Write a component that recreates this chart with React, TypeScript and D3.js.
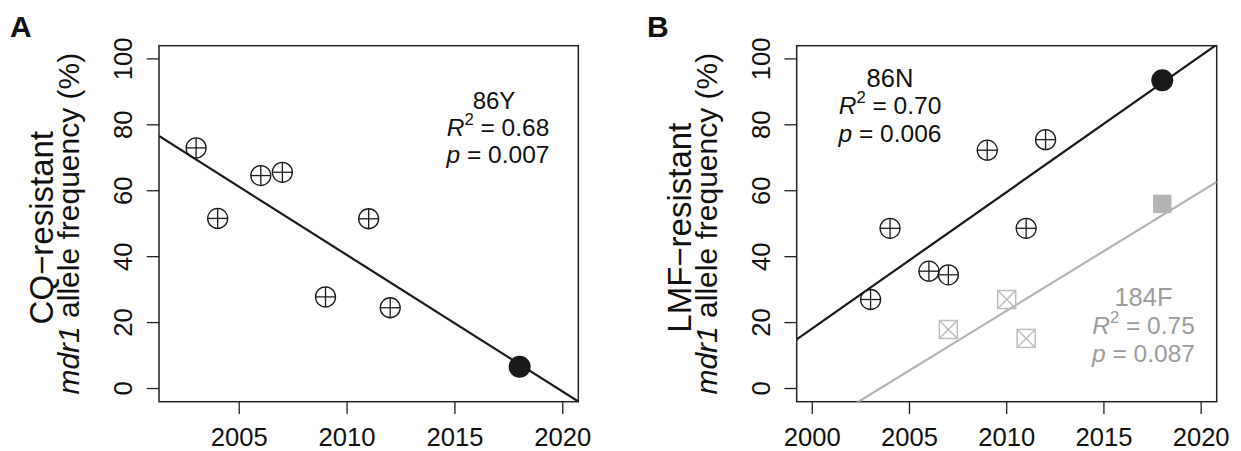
import React from "react";
import * as d3 from "d3";

// ---- Data ----
const yTicks = [0, 20, 40, 60, 80, 100];
const xTicksA = [2005, 2010, 2015, 2020];
const xTicksB = [2000, 2005, 2010, 2015, 2020];
const xLimA = [2002, 2020];
const xLimB = [2000, 2020];
const yLim = [0, 100];

const currentYear = 2018;

// Panel A: 86Y (CQ-resistant)
const years86Y = [2003, 2004, 2006, 2007, 2009, 2011, 2012];
const freq86Y = [73, 51.6, 64.6, 65.6, 27.8, 51.5, 24.5];
const current86Y = 6.6;

// Panel B: 86N (LMF-resistant)
const years86N = [2003, 2004, 2006, 2007, 2009, 2011, 2012];
const freq86N = [27, 48.6, 35.6, 34.5, 72.3, 48.6, 75.5];
const current86N = 93.5;

// Panel B: 184F
const years184F = [2007, 2010, 2011];
const freq184F = [17.9, 27, 15.2];
const current184F = 56;

const statsA = { label: "86Y", r2: "0.68", p: "0.007" };
const statsB86N = { label: "86N", r2: "0.70", p: "0.006" };
const statsB184F = { label: "184F", r2: "0.75", p: "0.087" };

// ---- helpers ----
const FONT = "'Liberation Sans', Arial, Helvetica, sans-serif";
const DARK = "#1a1a1a";
const GRAY_LINE = "#b3b3b3";
const GRAY_MARK = "#bdbdbd";
const GRAY_TEXT = "#9c9c9c";

function expand(lim: number[]) {
  const r = lim[1] - lim[0];
  return [lim[0] - 0.04 * r, lim[1] + 0.04 * r];
}

function fit(xs: number[], ys: number[]) {
  const mx = d3.mean(xs) as number;
  const my = d3.mean(ys) as number;
  let sxy = 0;
  let sxx = 0;
  xs.forEach((x, i) => {
    sxy += (x - mx) * (ys[i] - my);
    sxx += (x - mx) * (x - mx);
  });
  const b = sxy / sxx;
  const a = my - b * mx;
  return (x: number) => a + b * x;
}

function CirclePlus({ cx, cy, r, color }: any) {
  return (
    <g stroke={color} strokeWidth={1.3} fill="none">
      <circle cx={cx} cy={cy} r={r} />
      <line x1={cx - r} x2={cx + r} y1={cy} y2={cy} />
      <line x1={cx} x2={cx} y1={cy - r} y2={cy + r} />
    </g>
  );
}

function SquareX({ cx, cy, s, color }: any) {
  const h = s / 2;
  return (
    <g stroke={color} strokeWidth={1.5} fill="none">
      <rect x={cx - h} y={cy - h} width={s} height={s} />
      <line x1={cx - h} y1={cy - h} x2={cx + h} y2={cy + h} />
      <line x1={cx - h} y1={cy + h} x2={cx + h} y2={cy - h} />
    </g>
  );
}

function Stats({ x, y0, step, stats, color, headSize, size, headX }: any) {
  return (
    <g fill={color} fontFamily={FONT}>
      <text x={headX ?? x} y={y0} fontSize={headSize} textAnchor="middle">
        {stats.label}
      </text>
      <text x={x} y={y0 + step} fontSize={size} textAnchor="middle">
        <tspan fontStyle="italic">R</tspan>
        <tspan fontSize={size * 0.68} dy={-size * 0.45}>2</tspan>
        <tspan dy={size * 0.45}>{" = " + stats.r2}</tspan>
      </text>
      <text x={x} y={y0 + 2 * step} fontSize={size} textAnchor="middle">
        <tspan fontStyle="italic">p</tspan>
        <tspan>{" = " + stats.p}</tspan>
      </text>
    </g>
  );
}

function Frame({ id, x, y, xTicks, line1 }: any) {
  const [x0, x1] = x.range();
  const [yb, yt] = y.range();
  const cy = (yb + yt) / 2;
  return (
    <g>
      <rect x={x0} y={yt} width={x1 - x0} height={yb - yt} fill="none" stroke="#222" strokeWidth={1.5} />
      {yTicks.map((t) => (
        <g key={"y" + t}>
          <line x1={x0 - 12.3} x2={x0} y1={y(t)} y2={y(t)} stroke="#222" strokeWidth={1.3} />
          <text
            transform={`translate(${x0 - 27},${y(t)}) rotate(-90)`}
            textAnchor="middle"
            fontSize={25.6}
            fontFamily={FONT}
            fill="#111"
          >
            {t}
          </text>
        </g>
      ))}
      {xTicks.map((t: number) => (
        <g key={"x" + t}>
          <line x1={x(t)} x2={x(t)} y1={yb} y2={yb + 12.3} stroke="#222" strokeWidth={1.3} />
          <text x={x(t)} y={446} textAnchor="middle" fontSize={25.6} fontFamily={FONT} fill="#111">
            {t}
          </text>
        </g>
      ))}
      <text
        transform={`translate(${x0 - 106},${cy + 4}) rotate(-90)`}
        textAnchor="middle"
        fontSize={33}
        fontFamily={FONT}
        fill="#111"
      >
        {line1}
      </text>
      <text
        transform={`translate(${x0 - 80},${cy}) rotate(-90)`}
        textAnchor="middle"
        fontSize={30}
        fontFamily={FONT}
        fill="#111"
      >
        <tspan fontStyle="italic">mdr1</tspan>
        <tspan>{"  allele frequency (%)"}</tspan>
      </text>
      <clipPath id={id}>
        <rect x={x0} y={yt} width={x1 - x0} height={yb - yt} />
      </clipPath>
    </g>
  );
}

export default function App() {
  const top = 45.7;
  const bottom = 401.7;
  const yA = d3.scaleLinear().domain(expand(yLim)).range([bottom, top]);
  const xA = d3.scaleLinear().domain(expand(xLimA)).range([159, 578.3]);
  const xB = d3.scaleLinear().domain(expand(xLimB)).range([796.7, 1216.7]);
  const yB = yA;

  const fitA = fit([...years86Y, currentYear], [...freq86Y, current86Y]);
  const fitN = fit([...years86N, currentYear], [...freq86N, current86N]);
  const fitF = fit([...years184F, currentYear], [...freq184F, current184F]);

  const lineFor = (f: (x: number) => number, x: any, y: any) => {
    const [d0, d1] = x.domain();
    return d3.line<number>().x((v) => x(v)).y((v) => y(f(v)))([d0, d1]) as string;
  };

  return (
    <svg
      width={1241}
      height={451}
      style={{ position: "absolute", left: 0, top: 0, background: "#fff" }}
    >
      <rect width={1241} height={451} fill="#fff" />
      {/* Panel letters */}
      <text x={10} y={36.7} fontSize={30} fontWeight="bold" fontFamily={FONT} fill="#111">A</text>
      <text x={647} y={36.7} fontSize={30} fontWeight="bold" fontFamily={FONT} fill="#111">B</text>

      {/* Panel A */}
      <Frame id="clipA" x={xA} y={yA} xTicks={xTicksA} line1="CQ−resistant" />
      <path d={lineFor(fitA, xA, yA)} stroke={DARK} strokeWidth={2.2} fill="none" clipPath="url(#clipA)" />
      {years86Y.map((yr, i) => (
        <CirclePlus key={yr} cx={xA(yr)} cy={yA(freq86Y[i])} r={10} color={DARK} />
      ))}
      <circle cx={xA(currentYear)} cy={yA(current86Y)} r={11} fill={DARK} />
      <Stats x={498} headX={494} y0={109.3} step={27} stats={statsA} color="#111" headSize={24} size={24.5} />

      {/* Panel B */}
      <Frame id="clipB" x={xB} y={yB} xTicks={xTicksB} line1="LMF−resistant" />
      <path d={lineFor(fitF, xB, yB)} stroke={GRAY_LINE} strokeWidth={2.2} fill="none" clipPath="url(#clipB)" />
      <path d={lineFor(fitN, xB, yB)} stroke={DARK} strokeWidth={2.2} fill="none" clipPath="url(#clipB)" />
      {years184F.map((yr, i) => (
        <SquareX key={yr} cx={xB(yr)} cy={yB(freq184F[i])} s={18} color={GRAY_MARK} />
      ))}
      <rect
        x={xB(currentYear) - 9.2}
        y={yB(current184F) - 9.2}
        width={18.4}
        height={18.4}
        fill={GRAY_LINE}
      />
      {years86N.map((yr, i) => (
        <CirclePlus key={yr} cx={xB(yr)} cy={yB(freq86N[i])} r={10} color={DARK} />
      ))}
      <circle cx={xB(currentYear)} cy={yB(current86N)} r={11} fill={DARK} />
      <Stats x={890} y0={86.7} step={27.5} stats={statsB86N} color="#111" headSize={25.5} size={24.5} />
      <Stats x={1143.5} y0={306} step={28} stats={statsB184F} color={GRAY_TEXT} headSize={25.5} size={24.5} />
    </svg>
  );
}
